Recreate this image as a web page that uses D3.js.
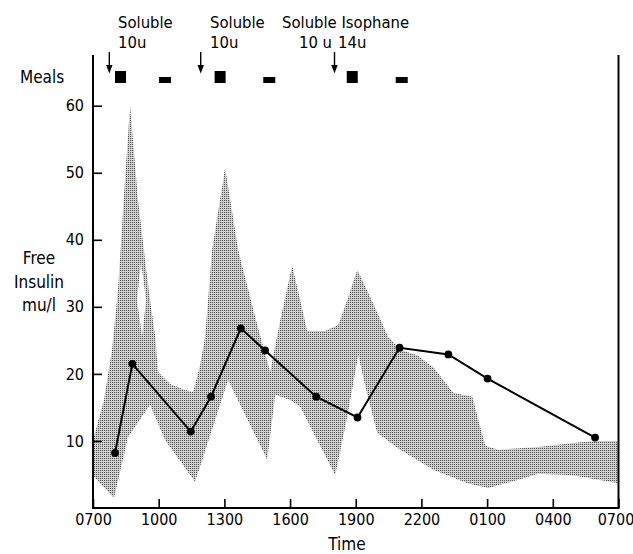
<!DOCTYPE html>
<html><head><meta charset="utf-8">
<script src="https://cdn.jsdelivr.net/npm/d3@7"></script>
<style>
body{margin:0;background:#fff;}
svg{display:block;}
text{font-family:"DejaVu Sans Condensed","DejaVu Sans",sans-serif;font-stretch:condensed;fill:#000;}
</style></head><body>
<svg id="c" width="633" height="554"></svg>
<script>
// ---- data (time in hours after 07:00, free insulin in mU/l) ----
const xTickHours = [0,3,6,9,12,15,18,21,24];
const xTickLabels = ["0700","1000","1300","1600","1900","2200","0100","0400","0700"];
const yTicks = [10,20,30,40,50,60];

const meanHours  = [1.006,1.797,4.466,5.39,6.752,7.858,10.194,12.08,14.0,16.23,18.02,22.93];
const meanValues = [8.2,21.5,11.4,16.6,26.8,23.5,16.6,13.5,23.9,22.9,19.3,10.5];

const upperHours  = [0,0.503,0.869,1.143,1.417,1.691,2.057,2.377,2.606,2.834,2.971,3.52,4.206,4.571,4.891,5.12,5.44,6.034,6.629,7.406,8.091,8.549,9.097,9.463,9.783,10.606,11.2,11.611,12.069,12.571,13.486,14.034,14.811,15.543,16.457,17.326,17.6,17.92,18.514,20.343,21.897,22.949,24];
const upperValues = [10.1,16.1,23.6,32.5,46.7,60.0,45.9,37.0,31.0,25.8,20.3,18.5,17.6,17.3,21.3,25.5,38.5,50.7,38.5,28.5,20.3,28.0,36.1,31.0,26.4,26.4,27.3,31.0,35.5,32.1,25.5,23.6,22.8,21.0,17.2,16.6,13.1,9.3,8.7,9.1,9.7,10.0,10.0];

const lowerHours  = [0,0.96,1.6,2.606,3.291,4.663,6.171,7.954,8.32,9.006,9.463,11.063,11.611,12.114,12.526,12.983,14.034,15.543,17.097,18.057,19.52,20.34,21.897,23.086,24];
const lowerValues = [4.8,1.5,10.6,15.4,10.1,3.9,19.1,7.2,16.9,16.1,15.1,4.9,13.6,22.8,16.9,11.2,8.7,5.7,3.7,3.0,4.3,5.1,4.9,4.2,3.7];

const gapHours  = [2.194,2.423,2.24,2.011];
const gapValues = [36.7,31.0,25.65,31.0];

const injectionHours = [0.745,4.92,11.03];
const mealHours = [1.257,3.29,5.806,8.05,11.84,14.1];
const mealKinds = ["main","snack","main","snack","main","snack"];

// ---- layout ----
const svg = d3.select("#c");
const x = d3.scaleLinear().domain([0,24]).range([93,618.5]);
const y = d3.scaleLinear().domain([0,60]).range([508,105.7]);
const frameTop = 55;
const FS = 17, TFS = 16, AFS = 16.5;

const defs = svg.append("defs");
const pat = defs.append("pattern").attr("id","stip").attr("width",2).attr("height",2)
  .attr("patternUnits","userSpaceOnUse");
pat.append("rect").attr("width",2).attr("height",2).attr("fill","#d0d0d0");
pat.append("rect").attr("width",1).attr("height",1).attr("fill","#505050");

// band
const line = d3.line().x(d=>x(d[0])).y(d=>y(d[1]));
const upper = upperHours.map((h,i)=>[h,upperValues[i]]);
const lower = lowerHours.map((h,i)=>[h,lowerValues[i]]);
const gap = gapHours.map((h,i)=>[h,gapValues[i]]);
const bandD = line(upper.concat(lower.slice().reverse())) + "Z" + line(gap) + "Z";
svg.append("path").attr("d",bandD).attr("fill","url(#stip)").attr("fill-rule","evenodd");

// frame
svg.append("path")
  .attr("d",`M${x(0)},${frameTop}V${y(0)}H${x(24)}V${frameTop}`)
  .attr("fill","none").attr("stroke","#000").attr("stroke-width",2);

// y axis
const ya = svg.append("g").attr("transform",`translate(${x(0)},0)`)
  .call(d3.axisLeft(y).tickValues(yTicks).tickSizeInner(-9).tickSizeOuter(0).tickPadding(9));
ya.select(".domain").remove();
ya.selectAll("line").attr("stroke-width",1.6);
ya.selectAll("text").attr("font-size",TFS).attr("font-family",null);

// x axis
const xa = svg.append("g").attr("transform",`translate(0,${y(0)})`)
  .call(d3.axisBottom(x).tickValues(xTickHours).tickFormat((d,i)=>xTickLabels[i])
        .tickSizeInner(-9).tickSizeOuter(0).tickPadding(6));
xa.select(".domain").remove();
xa.selectAll("line").attr("stroke-width",1.6);
xa.selectAll("text").attr("font-size",TFS).attr("font-family",null)
  .attr("dx",(d,i)=>i===xTickHours.length-1?-3:0);

// axis titles
svg.append("text").attr("x",347).attr("y",550).attr("text-anchor","middle").attr("font-size",FS).text("Time");
const yl = svg.append("text").attr("text-anchor","middle").attr("font-size",FS);
[["Free",264],["Insulin",288],["mu/l",311]].forEach(([t,yy])=>{
  yl.append("tspan").attr("x",39).attr("y",yy).text(t);
});
svg.append("text").attr("x",20).attr("y",83).attr("font-size",FS).text("Meals");

// mean line + dots
const mean = meanHours.map((h,i)=>[h,meanValues[i]]);
svg.append("path").attr("d",line(mean)).attr("fill","none").attr("stroke","#000").attr("stroke-width",2);
svg.selectAll("circle.m").data(mean).join("circle").attr("class","m")
  .attr("cx",d=>x(d[0])).attr("cy",d=>y(d[1])).attr("r",3.9).attr("fill","#000");

// meals
svg.selectAll("rect.meal").data(mealHours).join("rect").attr("class","meal")
  .attr("x",(d,i)=>x(d) - (mealKinds[i]==="main"?5.5:6))
  .attr("y",(d,i)=>mealKinds[i]==="main"?71:77)
  .attr("width",(d,i)=>mealKinds[i]==="main"?11:12)
  .attr("height",(d,i)=>mealKinds[i]==="main"?12:6)
  .attr("fill","#000");

// injection arrows
injectionHours.forEach(h=>{
  const cx = x(h);
  svg.append("line").attr("x1",cx).attr("x2",cx).attr("y1",52).attr("y2",67)
    .attr("stroke","#000").attr("stroke-width",1.4);
  svg.append("path").attr("d",`M${cx-3.2},${65}L${cx+3.2},${65}L${cx},${73.5}Z`).attr("fill","#000");
});

// injection labels
const ann = [["Soluble",118,28,"start"],["10u",118,48,"start"],["Soluble",210,28,"start"],["10u",210,48,"start"],
             ["Soluble Isophane",282,28,"start"],["10 u",332,48,"end"],["14u",338,48,"start"]];
ann.forEach(([t,xx,yy,a])=>svg.append("text").attr("x",xx).attr("y",yy).attr("text-anchor",a)
  .attr("font-size",AFS).text(t));
</script>
</body></html>
